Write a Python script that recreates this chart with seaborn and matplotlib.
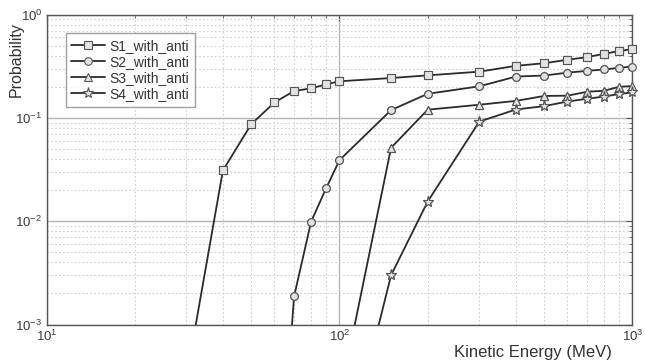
import numpy as np
import pandas as pd
import matplotlib
matplotlib.use("Agg")
import matplotlib.pyplot as plt
import seaborn as sns
from matplotlib.ticker import LogLocator, NullFormatter

# ---- data ----
s1_energy = [30, 40, 50, 60, 70, 80, 90, 100, 150, 200, 300, 400, 500, 600, 700, 800, 900, 1000]
s1_prob = [3.0e-4, 0.031, 0.087, 0.141, 0.182, 0.193, 0.211, 0.226, 0.243, 0.258, 0.280, 0.319,
           0.338, 0.365, 0.387, 0.417, 0.443, 0.463]

s2_energy = [60, 70, 80, 90, 100, 150, 200, 300, 400, 500, 600, 700, 800, 900, 1000]
s2_prob = [6e-6, 0.00187, 0.0099, 0.0208, 0.039, 0.119, 0.171, 0.202, 0.251, 0.257, 0.274,
           0.285, 0.294, 0.305, 0.314]

s3_energy = [100, 150, 200, 300, 400, 500, 600, 700, 800, 900, 1000]
s3_prob = [1.9e-4, 0.0514, 0.120, 0.134, 0.146, 0.163, 0.164, 0.179, 0.183, 0.200, 0.203]

s4_energy = [100, 150, 200, 300, 400, 500, 600, 700, 800, 900, 1000]
s4_prob = [3e-5, 0.0030, 0.0155, 0.092, 0.1205, 0.130, 0.144, 0.153, 0.161, 0.170, 0.177]

series_names = ["S1_with_anti", "S2_with_anti", "S3_with_anti", "S4_with_anti"]
series_markers = ["s", "o", "^", "*"]

sns.set_style("white")
plt.rcParams["font.family"] = ["Liberation Sans", "DejaVu Sans"]
plt.rcParams["mathtext.fontset"] = "custom"
plt.rcParams["mathtext.rm"] = "Liberation Sans"
plt.rcParams["mathtext.it"] = "Liberation Sans:italic"
plt.rcParams["mathtext.bf"] = "Liberation Sans:bold"
plt.rcParams["mathtext.default"] = "regular"

fig = plt.figure(figsize=(6.45, 3.64), dpi=100)
ax = fig.add_axes([0.0721, 0.1085, 0.9085, 0.8515])

YMIN, YMAX = 1e-3, 1
all_e = [s1_energy, s2_energy, s3_energy, s4_energy]
all_p = [s1_prob, s2_prob, s3_prob, s4_prob]
line_col = "#2b2b2b"
for name, mk, e, p in zip(series_names, series_markers, all_e, all_p):
    df = pd.DataFrame({"energy": e, "prob": p})
    ms = 8 if mk == "*" else (6 if mk == "^" else 5.5)
    # line (clipped to the axes)
    sns.lineplot(data=df, x="energy", y="prob", ax=ax, color=line_col, lw=1.3,
                 marker=mk, markersize=ms, mfc="#e2e2e2", mec="#555555", mew=0.8,
                 label=name, zorder=5)
    # markers of the visible points, not clipped at the frame
    vis = df[(df["prob"] >= YMIN) & (df["prob"] <= YMAX)]
    sns.lineplot(data=vis, x="energy", y="prob", ax=ax, color=line_col, lw=0,
                 marker=mk, markersize=ms, mfc="#e2e2e2", mec="#555555", mew=0.8,
                 zorder=6, clip_on=False, legend=False)

ax.set_xscale("log")
ax.set_yscale("log")
ax.set_xlim(10, 1000)
ax.set_ylim(YMIN, YMAX)

ax.xaxis.set_major_locator(LogLocator(base=10, numticks=10))
ax.yaxis.set_major_locator(LogLocator(base=10, numticks=10))
ax.xaxis.set_minor_locator(LogLocator(base=10, subs=np.arange(2, 10), numticks=100))
ax.yaxis.set_minor_locator(LogLocator(base=10, subs=np.arange(2, 10), numticks=100))
ax.xaxis.set_minor_formatter(NullFormatter())
ax.yaxis.set_minor_formatter(NullFormatter())

ax.grid(True, which="major", color="#b4b4b4", lw=1.0, ls="-", zorder=0)
ax.grid(True, which="minor", color="#cfcfcf", lw=0.8, ls=(0, (1.5, 2)), zorder=0)
ax.set_axisbelow(True)

for sp in ax.spines.values():
    sp.set_color("#555555")
    sp.set_linewidth(1.0)
ax.tick_params(which="both", direction="in", top=True, right=True, colors="#555555",
               labelcolor="#3a3a3a", labelsize=9.5, pad=3)
ax.tick_params(which="major", length=4)
ax.tick_params(which="minor", length=2.5)

ax.set_xlabel("Kinetic Energy (MeV)", fontsize=12, color="#333333", loc="right")
ax.xaxis.set_label_coords(0.965, -0.065)
ax.set_ylabel("Probability", fontsize=11.5, color="#333333", loc="top")
ax.yaxis.set_label_coords(-0.038, 0.975)

leg = ax.legend(loc="upper left", bbox_to_anchor=(0.033, 0.94), frameon=True, fancybox=False,
                edgecolor="#888888", fontsize=10, handlelength=2.4, handletextpad=0.35,
                labelspacing=0.15, borderpad=0.4, borderaxespad=0)
leg.get_frame().set_linewidth(1.0)
for t in leg.get_texts():
    t.set_color("#333333")

fig.savefig("out.png", dpi=100, facecolor="white")
